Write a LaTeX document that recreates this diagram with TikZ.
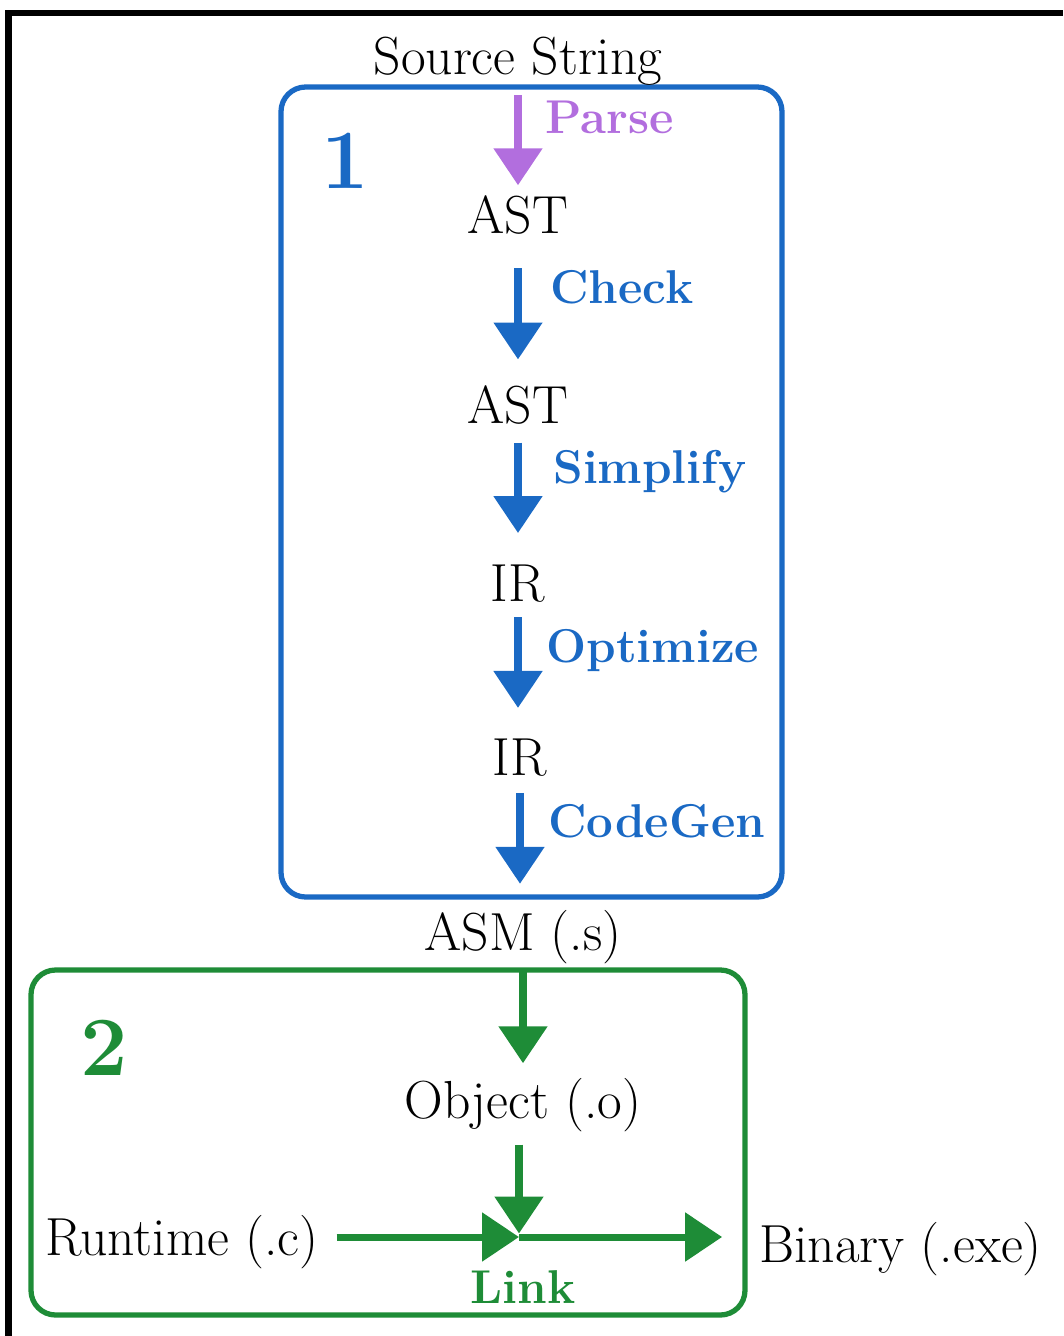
\documentclass[tikz,border=0pt]{standalone}
\usepackage{fontspec}
\usetikzlibrary{arrows.meta,calc}

\definecolor{stageblue}{RGB}{26,105,196}
\definecolor{parsepurple}{RGB}{178,110,222}
\definecolor{stagegreen}{RGB}{30,140,55}

\tikzset{
  txt/.style={inner sep=0pt, text height=21pt, text depth=6pt,
    font=\fontsize{30.5}{35}\selectfont, anchor=base},
  lbl/.style={inner sep=0pt, font=\fontsize{27}{32}\selectfont\bfseries, anchor=base west},
  num/.style={inner sep=0pt, font=\fontsize{48}{52}\selectfont\bfseries, anchor=base},
  stagebox/.style={line width=3pt, rounded corners=14pt},
  flow/.style={line width=4pt, -{Triangle[length=21pt,width=27pt]}},
}

\begin{document}
\begin{tikzpicture}[x=0.02cm, y=-0.02cm]
  \path[use as bounding box] (0,0) rectangle (1063,1336);

  % frame edges
  \draw[line width=3.4pt] (5,13) -- (1063,13);
  \draw[line width=4pt] (8.5,10) -- (8.5,1336);

  % stage boxes
  \draw[stagebox, stageblue] (281,87) rectangle (782,897);
  \draw[stagebox, stagegreen] (31,970) rectangle (745,1315);

  % stage numbers
  \node[num, text=stageblue] (n1) at (345,188) {1};
  \node[num, text=stagegreen] (n2) at (104,1075) {2};

  % artefacts
  \node[txt] (src) at (518,74) {Source String};
  \node[txt] (ast1) at (518,233) {AST};
  \node[txt] (ast2) at (518,423) {AST};
  \node[txt] (ir1) at (518,601) {IR};
  \node[txt] (ir2) at (520,775) {IR};
  \node[txt] (asm) at (523,950) {ASM (.s)};
  \node[txt] (obj) at (523,1118) {Object (.o)};
  \node[txt, anchor=base east] (rt) at (319,1255) {Runtime (.c)};
  \node[txt, anchor=base west] (bin) at (759,1262) {Binary (.exe)};
  \coordinate (j) at (519,1237);

  % pass names
  \node[lbl, text=parsepurple] (parse) at (545,133) {Parse};
  \node[lbl, text=stageblue] (check) at (550,303) {Check};
  \node[lbl, text=stageblue] (simp) at (553,483) {Simplify};
  \node[lbl, text=stageblue] (opt) at (546,662) {Optimize};
  \node[lbl, text=stageblue] (cgen) at (548,837) {CodeGen};
  \node[lbl, text=stagegreen, anchor=base] (link) at (523,1303) {Link};

  % stage 1 passes
  \draw[flow, parsepurple, shorten <=6pt, shorten >=6pt] (src.south) -- (ast1.north);
  \draw[flow, stageblue, shorten <=14pt, shorten >=15pt] (ast1.south) -- (ast2.north);
  \draw[flow, stageblue, shorten <=5pt, shorten >=17.5pt] (ast2.south) -- (ir1.north);
  \draw[flow, stageblue, shorten <=3pt, shorten >=17pt] (ir1.south) -- (ir1.south |- ir2.north);
  \draw[flow, stageblue, shorten <=4pt, shorten >=16.5pt] (ir2.south) -- (ir2.south |- asm.north);

  % stage 2: assemble and link
  \draw[flow, stagegreen, shorten <=5pt, shorten >=10pt] (asm.south -| obj.south) -- (obj.north);
  \draw[flow, stagegreen, shorten <=9pt, shorten >=2pt] (obj.south -| j) -- (j);
  \draw[flow, stagegreen, shorten <=10pt] (rt.east |- j) -- (j);
  \draw[flow, stagegreen, shorten >=21pt] (j) -- (j -| bin.west);
\end{tikzpicture}
\end{document}
